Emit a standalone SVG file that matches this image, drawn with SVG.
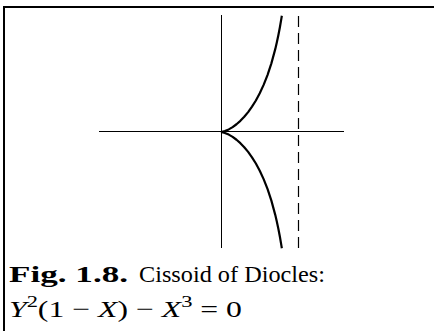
<svg xmlns="http://www.w3.org/2000/svg" width="434" height="331" viewBox="0 0 434 331">
<style>
.frame{fill:none;stroke:#000;stroke-width:2}
.axis{fill:none;stroke:#000;stroke-width:1}
.curve{fill:none;stroke:#000;stroke-width:2.2;stroke-linejoin:round}
.asym{fill:none;stroke:#000;stroke-width:1.2;stroke-dasharray:11 6}
text{fill:#000}
.b{font-weight:bold}
.i{font-style:italic}
.sup{font-size:17px}
</style>
<rect class="frame" x="4" y="7" width="450" height="350"/>
<g id="axes">
<line id="x-axis" class="axis" x1="99" y1="131.5" x2="344" y2="131.5" stroke-width="1.3"/>
<line id="y-axis" class="axis" x1="221.5" y1="15" x2="221.5" y2="248"/>
</g>
<g id="asymptote">
<line class="asym" x1="298.5" y1="16" x2="298.5" y2="248"/>
</g>
<g id="cissoid">
<polyline class="curve" points="281.84,15.75 281.45,18.17 279.9,27.19 278.35,35.25 276.8,42.52 275.25,49.13 271.38,63.35 267.5,75.05 263.63,84.88 259.75,93.25 255.88,100.46 252,106.69 248.13,112.1 244.25,116.78 240.38,120.82 236.5,124.25 232.63,127.12 228.75,129.42 224.88,131.11 221,132"/>
<polyline class="curve" points="221,132 224.88,132.89 228.75,134.58 232.63,136.88 236.5,139.75 240.38,143.18 244.25,147.22 248.13,151.9 252,157.31 255.88,163.54 259.75,170.75 263.63,179.12 267.5,188.95 271.38,200.65 275.25,214.87 276.8,221.48 278.35,228.75 279.9,236.81 281.45,245.83 281.84,248.25"/>
</g>
<g id="caption" font-family="'Liberation Serif', 'Times New Roman', serif" font-size="24">
<text class="b" x="9" y="282" textLength="119" lengthAdjust="spacingAndGlyphs">Fig. 1.8.</text>
<text x="139" y="282" font-size="23" textLength="186" lengthAdjust="spacingAndGlyphs">Cissoid of Diocles:</text>
<text x="9" y="317" textLength="233" lengthAdjust="spacingAndGlyphs"><tspan class="i">Y</tspan><tspan class="sup" dy="-10">2</tspan><tspan dy="10">(1 − </tspan><tspan class="i">X</tspan><tspan>) − </tspan><tspan class="i">X</tspan><tspan class="sup" dy="-10">3</tspan><tspan dy="10"> = 0</tspan></text>
</g>
</svg>
